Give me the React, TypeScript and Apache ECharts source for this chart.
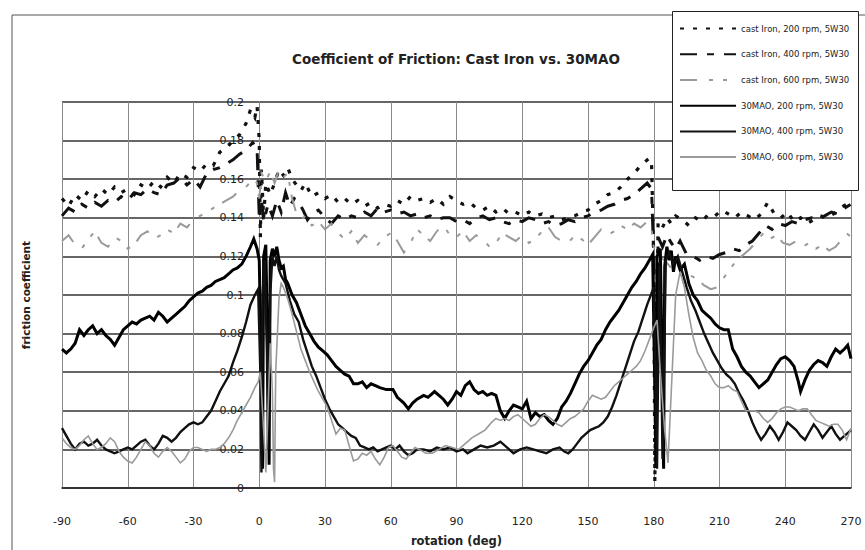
import React, { useEffect, useRef } from "react";
import * as echarts from "echarts";

const titleText = "Coefficient of Friction: Cast Iron vs. 30MAO";
const xName = "rotation (deg)";
const yName = "friction coefficient";
const seriesNames = [
  "cast Iron, 200 rpm, 5W30",
  "cast Iron, 400 rpm, 5W30",
  "cast Iron, 600 rpm, 5W30",
  "30MAO, 200 rpm, 5W30",
  "30MAO, 400 rpm, 5W30",
  "30MAO, 600 rpm, 5W30",
];

// cast iron, 200 rpm  [rotation deg, friction coefficient]
const ci200: number[][] = [
  [-90, 0.15], [-87, 0.146], [-84, 0.152], [-81, 0.149], [-78, 0.154], [-75, 0.151], [-72, 0.155], [-69, 0.152],
  [-66, 0.156], [-63, 0.153], [-60, 0.155], [-57, 0.152], [-54, 0.157], [-51, 0.155], [-48, 0.159], [-45, 0.156],
  [-42, 0.161], [-39, 0.158], [-36, 0.163], [-33, 0.161], [-30, 0.166], [-27, 0.164], [-24, 0.168], [-21, 0.167],
  [-18, 0.174], [-15, 0.176], [-12, 0.18], [-9, 0.183], [-6, 0.189], [-4, 0.196], [-2, 0.192], [-1, 0.198],
  [0, 0.18], [0.5, 0.13], [1, 0.165], [2, 0.14], [3, 0.158], [5, 0.152], [7, 0.158], [9, 0.165], [11, 0.162],
  [13, 0.166], [15, 0.16], [17, 0.157], [19, 0.154], [21, 0.158], [24, 0.151], [27, 0.153], [30, 0.15],
  [33, 0.152], [36, 0.148], [39, 0.15], [42, 0.147], [45, 0.149], [48, 0.146], [51, 0.148], [54, 0.145],
  [57, 0.147], [60, 0.146], [63, 0.149], [66, 0.147], [69, 0.151], [72, 0.149], [75, 0.15], [78, 0.148],
  [81, 0.15], [84, 0.147], [87, 0.151], [90, 0.149], [93, 0.147], [96, 0.148], [99, 0.145], [102, 0.144],
  [105, 0.146], [108, 0.143], [111, 0.145], [114, 0.142], [117, 0.143], [120, 0.141], [123, 0.143], [126, 0.141],
  [129, 0.142], [132, 0.14], [135, 0.141], [138, 0.139], [141, 0.14], [144, 0.141], [147, 0.143], [150, 0.144],
  [153, 0.147], [156, 0.149], [159, 0.152], [162, 0.153], [165, 0.156], [168, 0.16], [171, 0.163], [174, 0.167],
  [176, 0.169], [178, 0.171], [179, 0.168], [180, 0.12], [180.5, 0.003], [181, 0.06], [182, 0.138], [184, 0.135],
  [186, 0.14], [188, 0.137], [190, 0.141], [193, 0.139], [196, 0.136], [199, 0.14], [202, 0.138], [205, 0.142],
  [208, 0.141], [211, 0.144], [214, 0.142], [217, 0.14], [220, 0.143], [223, 0.141], [226, 0.139], [229, 0.142],
  [232, 0.148], [235, 0.142], [238, 0.14], [241, 0.143], [244, 0.138], [247, 0.14], [250, 0.137], [253, 0.139],
  [256, 0.141], [259, 0.14], [262, 0.142], [265, 0.145], [268, 0.147], [270, 0.149],
];

// cast iron, 400 rpm
const ci400: number[][] = [
  [-90, 0.141], [-87, 0.145], [-84, 0.143], [-81, 0.147], [-78, 0.145], [-75, 0.148], [-72, 0.146], [-69, 0.149],
  [-66, 0.148], [-63, 0.151], [-60, 0.149], [-57, 0.153], [-54, 0.152], [-51, 0.155], [-48, 0.153], [-45, 0.152],
  [-42, 0.157], [-39, 0.158], [-36, 0.161], [-33, 0.157], [-30, 0.16], [-27, 0.156], [-24, 0.163], [-21, 0.165],
  [-18, 0.166], [-15, 0.168], [-12, 0.17], [-9, 0.173], [-6, 0.175], [-3, 0.179], [-1, 0.176], [0, 0.14],
  [1, 0.15], [2, 0.138], [4, 0.147], [6, 0.141], [8, 0.149], [10, 0.143], [12, 0.153], [14, 0.146], [16, 0.15],
  [18, 0.148], [20, 0.144], [22, 0.139], [24, 0.142], [27, 0.144], [30, 0.14], [33, 0.137], [36, 0.141],
  [39, 0.139], [42, 0.141], [45, 0.14], [48, 0.143], [51, 0.141], [54, 0.145], [57, 0.143], [60, 0.144],
  [63, 0.142], [66, 0.143], [69, 0.141], [72, 0.142], [75, 0.14], [78, 0.141], [81, 0.139], [84, 0.14],
  [87, 0.14], [90, 0.138], [93, 0.139], [96, 0.137], [99, 0.14], [102, 0.141], [105, 0.139], [108, 0.14],
  [111, 0.138], [114, 0.137], [117, 0.139], [120, 0.138], [123, 0.14], [126, 0.139], [129, 0.137], [132, 0.138],
  [135, 0.136], [138, 0.137], [141, 0.139], [144, 0.138], [147, 0.14], [150, 0.141], [153, 0.143], [156, 0.144],
  [159, 0.146], [162, 0.147], [165, 0.149], [168, 0.15], [171, 0.152], [174, 0.155], [177, 0.158], [179, 0.155],
  [180, 0.12], [181, 0.045], [182, 0.13], [184, 0.125], [186, 0.131], [188, 0.127], [190, 0.124], [192, 0.128],
  [195, 0.121], [198, 0.12], [201, 0.118], [204, 0.12], [207, 0.119], [210, 0.121], [213, 0.122], [216, 0.124],
  [219, 0.123], [222, 0.126], [225, 0.128], [228, 0.132], [231, 0.136], [234, 0.134], [237, 0.137], [240, 0.136],
  [243, 0.138], [246, 0.137], [249, 0.139], [252, 0.14], [255, 0.139], [258, 0.141], [261, 0.143], [264, 0.142],
  [267, 0.145], [270, 0.147],
];

// cast iron, 600 rpm
const ci600: number[][] = [
  [-90, 0.128], [-87, 0.131], [-84, 0.126], [-81, 0.124], [-78, 0.129], [-75, 0.133], [-72, 0.127], [-69, 0.125],
  [-66, 0.13], [-63, 0.128], [-60, 0.124], [-57, 0.126], [-54, 0.131], [-51, 0.133], [-48, 0.129], [-45, 0.131],
  [-42, 0.134], [-39, 0.132], [-36, 0.137], [-33, 0.135], [-30, 0.139], [-27, 0.141], [-24, 0.143], [-21, 0.145],
  [-18, 0.147], [-15, 0.149], [-12, 0.151], [-9, 0.154], [-6, 0.156], [-3, 0.16], [-1, 0.158], [0, 0.15],
  [1, 0.163], [3, 0.159], [5, 0.164], [7, 0.158], [9, 0.165], [11, 0.161], [13, 0.163], [15, 0.15], [17, 0.142],
  [19, 0.139], [21, 0.141], [24, 0.136], [27, 0.138], [30, 0.134], [33, 0.137], [36, 0.132], [39, 0.129],
  [42, 0.133], [45, 0.127], [48, 0.131], [51, 0.128], [54, 0.126], [57, 0.13], [60, 0.132], [63, 0.128],
  [66, 0.122], [69, 0.127], [72, 0.134], [75, 0.131], [78, 0.128], [81, 0.133], [84, 0.136], [87, 0.131],
  [90, 0.13], [93, 0.133], [96, 0.128], [99, 0.131], [102, 0.129], [105, 0.125], [108, 0.127], [111, 0.132],
  [114, 0.13], [117, 0.128], [120, 0.131], [123, 0.127], [126, 0.129], [129, 0.133], [132, 0.135], [135, 0.13],
  [138, 0.128], [141, 0.127], [144, 0.131], [147, 0.129], [150, 0.126], [153, 0.13], [156, 0.134], [159, 0.131],
  [162, 0.133], [165, 0.136], [168, 0.134], [171, 0.137], [174, 0.135], [177, 0.138], [179, 0.134], [180, 0.125],
  [182, 0.12], [185, 0.118], [188, 0.114], [191, 0.116], [194, 0.112], [197, 0.11], [200, 0.108], [203, 0.105],
  [206, 0.103], [209, 0.104], [212, 0.109], [215, 0.114], [218, 0.118], [221, 0.121], [224, 0.124], [227, 0.128],
  [230, 0.132], [233, 0.129], [236, 0.131], [239, 0.127], [242, 0.126], [245, 0.128], [248, 0.125], [251, 0.127],
  [254, 0.124], [257, 0.126], [260, 0.123], [263, 0.125], [266, 0.129], [268, 0.132], [270, 0.13],
];

// 30MAO, 200 rpm
const mao200: number[][] = [
  [-90, 0.072], [-88, 0.07], [-86, 0.072], [-84, 0.075], [-82, 0.082], [-80, 0.079], [-78, 0.082], [-76, 0.084],
  [-74, 0.08], [-72, 0.082], [-70, 0.079], [-68, 0.077], [-66, 0.074], [-64, 0.078], [-62, 0.082], [-60, 0.084],
  [-58, 0.086], [-56, 0.085], [-54, 0.087], [-52, 0.088], [-50, 0.089], [-48, 0.087], [-46, 0.091], [-44, 0.089],
  [-42, 0.086], [-40, 0.088], [-38, 0.09], [-36, 0.092], [-34, 0.094], [-32, 0.097], [-30, 0.099], [-28, 0.101],
  [-26, 0.102], [-24, 0.104], [-22, 0.105], [-20, 0.107], [-18, 0.108], [-16, 0.109], [-14, 0.111], [-12, 0.113],
  [-10, 0.114], [-8, 0.116], [-6, 0.12], [-4, 0.125], [-2.5, 0.129], [-1, 0.124], [0, 0.118], [1, 0.06],
  [1.5, 0.01], [2, 0.12], [3, 0.126], [4, 0.06], [4.5, 0.012], [5, 0.118], [6, 0.124], [7, 0.12], [8, 0.125],
  [9, 0.118], [10, 0.114], [11, 0.115], [12, 0.108], [13, 0.106], [15, 0.1], [17, 0.096], [19, 0.09], [21, 0.084],
  [23, 0.08], [25, 0.076], [27, 0.073], [29, 0.071], [31, 0.069], [33, 0.066], [35, 0.063], [37, 0.061],
  [39, 0.059], [41, 0.058], [43, 0.054], [45, 0.054], [47, 0.055], [49, 0.052], [51, 0.054], [53, 0.053],
  [55, 0.052], [58, 0.051], [61, 0.051], [63, 0.047], [66, 0.044], [68, 0.041], [70, 0.044], [72, 0.046],
  [75, 0.048], [77, 0.047], [80, 0.05], [82, 0.048], [84, 0.046], [86, 0.043], [88, 0.046], [90, 0.05],
  [92, 0.048], [94, 0.053], [96, 0.055], [98, 0.051], [100, 0.049], [102, 0.05], [104, 0.048], [106, 0.049],
  [108, 0.048], [110, 0.04], [112, 0.036], [114, 0.04], [116, 0.043], [118, 0.042], [120, 0.041], [122, 0.045],
  [124, 0.036], [126, 0.039], [128, 0.037], [130, 0.038], [132, 0.035], [134, 0.033], [136, 0.036], [138, 0.042],
  [140, 0.045], [142, 0.049], [144, 0.054], [146, 0.059], [148, 0.063], [150, 0.066], [152, 0.07], [154, 0.074],
  [156, 0.077], [158, 0.082], [160, 0.086], [162, 0.089], [164, 0.092], [166, 0.096], [168, 0.1], [170, 0.104],
  [172, 0.107], [174, 0.111], [176, 0.114], [178, 0.118], [179.5, 0.121], [180.5, 0.05], [181, 0.012],
  [181.5, 0.12], [183, 0.124], [184, 0.05], [184.5, 0.01], [185, 0.115], [186, 0.125], [187, 0.118], [188, 0.123],
  [189, 0.112], [190, 0.12], [192, 0.113], [194, 0.116], [196, 0.106], [198, 0.1], [200, 0.097], [202, 0.092],
  [204, 0.09], [206, 0.088], [208, 0.085], [210, 0.083], [212, 0.082], [214, 0.082], [216, 0.072], [218, 0.068],
  [220, 0.063], [222, 0.06], [224, 0.058], [226, 0.055], [228, 0.052], [230, 0.054], [232, 0.056], [234, 0.06],
  [236, 0.064], [238, 0.067], [240, 0.068], [242, 0.066], [244, 0.063], [246, 0.055], [247, 0.05], [249, 0.056],
  [251, 0.061], [253, 0.064], [255, 0.066], [257, 0.065], [259, 0.063], [261, 0.068], [263, 0.072], [265, 0.07],
  [267, 0.072], [268.5, 0.074], [270, 0.067],
];

// 30MAO, 400 rpm
const mao400: number[][] = [
  [-90, 0.031], [-88, 0.027], [-86, 0.023], [-84, 0.02], [-82, 0.023], [-80, 0.024], [-78, 0.022], [-76, 0.023],
  [-74, 0.025], [-72, 0.022], [-70, 0.02], [-68, 0.019], [-66, 0.018], [-64, 0.019], [-62, 0.02], [-60, 0.021],
  [-58, 0.02], [-56, 0.022], [-54, 0.024], [-52, 0.025], [-50, 0.022], [-48, 0.02], [-46, 0.023], [-44, 0.027],
  [-42, 0.026], [-40, 0.024], [-38, 0.026], [-36, 0.029], [-34, 0.031], [-32, 0.033], [-30, 0.034], [-28, 0.033],
  [-26, 0.034], [-24, 0.037], [-22, 0.04], [-20, 0.045], [-18, 0.05], [-16, 0.054], [-14, 0.058], [-12, 0.065],
  [-10, 0.071], [-8, 0.078], [-6, 0.086], [-4, 0.095], [-2, 0.1], [-0.5, 0.103], [0.5, 0.06], [1, 0.008],
  [1.5, 0.1], [2.5, 0.118], [3.5, 0.07], [4, 0.02], [5, 0.1], [6, 0.12], [7, 0.115], [8, 0.12], [9, 0.113],
  [10, 0.11], [12, 0.106], [14, 0.097], [16, 0.09], [18, 0.086], [20, 0.077], [22, 0.07], [24, 0.063], [26, 0.058],
  [28, 0.052], [30, 0.046], [32, 0.041], [34, 0.037], [36, 0.033], [38, 0.031], [40, 0.029], [42, 0.027],
  [44, 0.026], [46, 0.022], [48, 0.021], [50, 0.02], [52, 0.021], [54, 0.019], [56, 0.02], [58, 0.021],
  [60, 0.022], [62, 0.02], [64, 0.022], [66, 0.019], [68, 0.017], [70, 0.018], [72, 0.02], [75, 0.02],
  [78, 0.019], [81, 0.021], [84, 0.02], [87, 0.021], [90, 0.019], [93, 0.02], [95, 0.018], [98, 0.02],
  [101, 0.022], [104, 0.021], [107, 0.022], [110, 0.024], [113, 0.021], [116, 0.018], [119, 0.02], [122, 0.021],
  [125, 0.02], [128, 0.019], [131, 0.018], [134, 0.02], [137, 0.021], [139, 0.019], [141, 0.018], [143, 0.02],
  [145, 0.023], [147, 0.026], [149, 0.028], [151, 0.03], [153, 0.031], [155, 0.032], [157, 0.034], [159, 0.037],
  [161, 0.042], [163, 0.048], [165, 0.055], [167, 0.062], [169, 0.069], [171, 0.076], [173, 0.081], [175, 0.088],
  [177, 0.095], [179, 0.101], [180, 0.104], [181, 0.05], [181.5, 0.01], [182.5, 0.115], [183.5, 0.06],
  [184, 0.015], [185.5, 0.118], [187, 0.122], [189, 0.116], [191, 0.12], [193, 0.112], [195, 0.104], [197, 0.097],
  [199, 0.092], [201, 0.086], [203, 0.08], [205, 0.075], [207, 0.07], [209, 0.066], [211, 0.062], [213, 0.059],
  [215, 0.057], [217, 0.054], [219, 0.049], [221, 0.045], [223, 0.04], [225, 0.034], [227, 0.029], [229, 0.025],
  [231, 0.028], [233, 0.032], [235, 0.029], [237, 0.025], [239, 0.029], [241, 0.034], [243, 0.032], [245, 0.03],
  [247, 0.027], [249, 0.025], [251, 0.029], [253, 0.033], [255, 0.03], [257, 0.026], [259, 0.029], [261, 0.032],
  [263, 0.028], [265, 0.025], [267, 0.027], [269, 0.029], [270, 0.03],
];

// 30MAO, 600 rpm
const mao600: number[][] = [
  [-90, 0.026], [-88, 0.023], [-86, 0.021], [-84, 0.02], [-82, 0.022], [-80, 0.025], [-78, 0.027], [-76, 0.023],
  [-74, 0.02], [-72, 0.021], [-70, 0.023], [-68, 0.026], [-66, 0.024], [-64, 0.019], [-62, 0.016], [-60, 0.014],
  [-58, 0.013], [-56, 0.016], [-54, 0.02], [-52, 0.024], [-50, 0.022], [-48, 0.018], [-46, 0.016], [-44, 0.019],
  [-42, 0.021], [-40, 0.019], [-38, 0.016], [-36, 0.013], [-34, 0.015], [-32, 0.019], [-30, 0.021], [-28, 0.021],
  [-26, 0.02], [-24, 0.019], [-22, 0.02], [-20, 0.02], [-18, 0.021], [-16, 0.023], [-14, 0.026], [-12, 0.03],
  [-10, 0.035], [-8, 0.039], [-6, 0.043], [-4, 0.047], [-2, 0.052], [-0.5, 0.055], [0.5, 0.06], [2, 0.03],
  [3, 0.008], [4, 0.04], [5, 0.075], [6, 0.05], [6.5, 0.01], [7, 0.003], [7.5, 0.06], [9, 0.098], [10, 0.106],
  [11, 0.104], [13, 0.098], [15, 0.09], [17, 0.081], [19, 0.072], [21, 0.066], [23, 0.06], [25, 0.055], [27, 0.05],
  [29, 0.046], [31, 0.042], [33, 0.035], [35, 0.028], [37, 0.031], [39, 0.03], [41, 0.022], [43, 0.014],
  [45, 0.015], [47, 0.018], [49, 0.017], [51, 0.019], [53, 0.015], [55, 0.012], [57, 0.016], [59, 0.021],
  [61, 0.022], [63, 0.019], [65, 0.016], [67, 0.015], [69, 0.018], [71, 0.021], [73, 0.02], [76, 0.018],
  [79, 0.018], [82, 0.02], [85, 0.022], [88, 0.021], [91, 0.02], [94, 0.023], [97, 0.026], [100, 0.028],
  [103, 0.03], [106, 0.034], [108, 0.036], [110, 0.035], [112, 0.036], [114, 0.035], [116, 0.037], [118, 0.038],
  [120, 0.036], [122, 0.034], [124, 0.032], [126, 0.033], [128, 0.036], [130, 0.038], [132, 0.037], [134, 0.035],
  [136, 0.033], [138, 0.032], [140, 0.034], [142, 0.036], [144, 0.037], [146, 0.039], [148, 0.041], [150, 0.045],
  [152, 0.048], [154, 0.047], [156, 0.046], [158, 0.047], [160, 0.05], [162, 0.053], [164, 0.055], [166, 0.057],
  [168, 0.059], [170, 0.061], [172, 0.063], [174, 0.066], [176, 0.071], [178, 0.077], [180, 0.083],
  [181.5, 0.087], [183, 0.06], [185, 0.03], [186.5, 0.013], [188, 0.05], [190, 0.1], [192, 0.112], [194, 0.104],
  [196, 0.09], [198, 0.078], [200, 0.07], [202, 0.066], [204, 0.061], [206, 0.058], [208, 0.054], [210, 0.052],
  [212, 0.052], [214, 0.053], [216, 0.051], [218, 0.05], [220, 0.045], [222, 0.04], [224, 0.04], [226, 0.04],
  [228, 0.039], [230, 0.036], [232, 0.034], [234, 0.036], [236, 0.039], [238, 0.041], [240, 0.042], [242, 0.042],
  [244, 0.041], [246, 0.04], [248, 0.041], [250, 0.041], [252, 0.038], [254, 0.035], [256, 0.034], [258, 0.033],
  [260, 0.032], [262, 0.033], [264, 0.033], [266, 0.03], [268, 0.025], [270, 0.031],
];

const FONT = "DejaVu Sans";

export default function App() {
  const ref = useRef<HTMLDivElement>(null);
  useEffect(() => {
    document.body.style.margin = "0";
    if (!ref.current) return;
    const chart = echarts.init(ref.current, undefined, { renderer: "svg" });
    const styles = [
      { color: "#111", width: 3.2, type: [4, 9] },
      { color: "#111", width: 3, type: [17, 10, 7, 10] },
      { color: "#9a9a9a", width: 2, type: [17, 12, 4, 10, 4, 9] },
      { color: "#000", width: 3, type: "solid" },
      { color: "#111", width: 2.4, type: "solid" },
      { color: "#9a9a9a", width: 1.6, type: "solid" },
    ];
    const datas = [ci200, ci400, ci600, mao200, mao400, mao600];
    chart.setOption({
      animation: false,
      backgroundColor: "#fff",
      textStyle: { fontFamily: FONT },
      title: {
        text: titleText,
        left: 456,
        top: 52,
        padding: 0,
        textAlign: "center",
        textStyle: { fontFamily: FONT, fontSize: 13.5, fontWeight: "bold", color: "#222" },
      },
      grid: { left: 62, right: 14, top: 102, bottom: 62, containLabel: false, outerBoundsMode: "none" },
      legend: {
        orient: "vertical",
        left: 679,
        top: 23,
        padding: 0,
        itemWidth: 56,
        itemHeight: 14,
        itemGap: 14.5,
        z: 10,
        data: seriesNames,
        itemStyle: { color: "rgba(0,0,0,0)", borderColor: "rgba(0,0,0,0)", borderWidth: 0 },
        textStyle: { fontFamily: FONT, fontSize: 8.5, color: "#222" },
      },
      xAxis: {
        type: "value",
        min: -90,
        max: 270,
        interval: 30,
        name: xName,
        nameLocation: "middle",
        nameGap: 47,
        nameTextStyle: { fontFamily: FONT, fontSize: 11.5, fontWeight: "bold", color: "#222" },
        axisLine: { show: true, onZero: false, lineStyle: { color: "#222", width: 1.5 } },
        axisTick: { show: false },
        axisLabel: { margin: 28, fontFamily: FONT, fontSize: 11, color: "#222" },
        splitLine: { show: true, lineStyle: { color: "#8a8a8a", width: 1 } },
      },
      yAxis: {
        type: "value",
        min: 0,
        max: 0.2,
        interval: 0.02,
        position: "left",
        offset: -197,
        name: yName,
        nameLocation: "middle",
        nameGap: 228,
        nameTextStyle: { fontFamily: FONT, fontSize: 10.5, fontWeight: "bold", color: "#222" },
        axisLine: { show: true, onZero: false, lineStyle: { color: "#8a8a8a", width: 1 } },
        axisTick: { show: false },
        axisLabel: {
          margin: 15,
          fontFamily: FONT,
          fontSize: 11,
          color: "#222",
          formatter: (v: number) => String(+v.toFixed(2)),
        },
        splitLine: { show: true, lineStyle: { color: "#333", width: 1.5 } },
      },
      graphic: [
        {
          type: "polyline",
          z: 0,
          silent: true,
          shape: { points: [[12, 560], [12, 15], [870, 15]] },
          style: { stroke: "#555", lineWidth: 1, fill: null },
        },
        {
          type: "rect",
          z: 5,
          silent: true,
          shape: { x: 672.5, y: 11.5, width: 186, height: 179 },
          style: { fill: "#fff", stroke: "#222", lineWidth: 1 },
        },
      ],
      series: datas.map((d, i) => ({
        name: seriesNames[i],
        type: "line",
        data: d,
        symbol: "none",
        smooth: false,
        z: i >= 3 ? 3 : 2,
        lineStyle: { color: styles[i].color, width: styles[i].width, type: styles[i].type, cap: "butt", join: "miter" },
        itemStyle: { color: styles[i].color },
      })),
    });
    return () => chart.dispose();
  }, []);
  return <div ref={ref} style={{ width: 865, height: 550 }} />;
}
